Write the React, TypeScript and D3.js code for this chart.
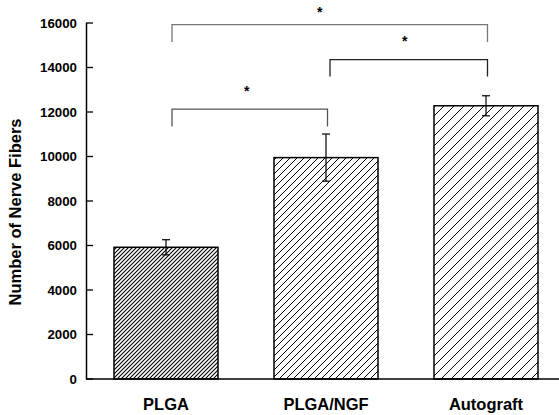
import * as d3 from "d3";

const groups = ["PLGA", "PLGA/NGF", "Autograft"];
const means = [5920, 9950, 12280];
const errors = [340, 1060, 450];
const yTicks = [0, 2000, 4000, 6000, 8000, 10000, 12000, 14000, 16000];
// significance brackets: [from group, to group, bracket value, leg bottom value, star value]
const brackets: [number, number, number, number, number][] = [
  [0, 2, 15930, 15150, 16600],
  [1, 2, 14350, 13600, 15280],
  [0, 1, 12130, 11350, 13030],
];
const hatchGaps = [4, 7, 10];

const width = 559;
const height = 415;
const font = "'Liberation Sans', Arial, Helvetica, sans-serif";

export default function App() {
  const x = d3
    .scaleBand<string>()
    .domain(groups)
    .range([86, 566])
    .paddingInner(0.35)
    .paddingOuter(0.175);
  const y = d3.scaleLinear().domain([0, 16000]).range([379, 23]);
  const cx = (i: number) => (x(groups[i]) ?? 0) + x.bandwidth() / 2;
  const starShift = [-10, -4, -3];

  return (
    <svg
      width={width}
      height={height}
      style={{ position: "absolute", left: 0, top: 0, background: "#fff" }}
      fontFamily={font}
    >
      <defs>
        {hatchGaps.map((s, i) => (
          <pattern
            key={i}
            id={`hatch${i}`}
            patternUnits="userSpaceOnUse"
            width={s}
            height={s}
          >
            <path
              d={`M-1,1 L1,-1 M0,${s} L${s},0 M${s - 1},${s + 1} L${s + 1},${s - 1}`}
              stroke="#000"
              strokeWidth={i === 0 ? 1.1 : 1}
            />
          </pattern>
        ))}
      </defs>

      {/* bars */}
      {groups.map((g, i) => (
        <rect
          key={g}
          x={x(g)}
          y={y(means[i])}
          width={x.bandwidth()}
          height={y(0) - y(means[i])}
          fill={`url(#hatch${i})`}
          stroke="#000"
          strokeWidth={1.5}
        />
      ))}

      {/* error bars */}
      {groups.map((g, i) => {
        const c = cx(i);
        const top = y(means[i] + errors[i]);
        const bot = y(means[i] - errors[i]);
        return (
          <g key={g} stroke="#000" strokeWidth={1.2}>
            <line x1={c} x2={c} y1={top} y2={bot} />
            <line x1={c - 4} x2={c + 4} y1={top} y2={top} />
            <line x1={c - 4} x2={c + 4} y1={bot} y2={bot} />
          </g>
        );
      })}

      {/* axes */}
      <line x1={86.5} x2={86.5} y1={y(16000)} y2={y(0)} stroke="#000" strokeWidth={1.5} />
      <line x1={86} x2={559} y1={y(0)} y2={y(0)} stroke="#000" strokeWidth={1.5} />
      {yTicks.map((t) => (
        <g key={t}>
          <line x1={86} x2={93} y1={y(t)} y2={y(t)} stroke="#000" strokeWidth={1.3} />
          <text
            x={77}
            y={y(t)}
            dy="0.35em"
            textAnchor="end"
            fontSize={13.3}
            fontWeight="bold"
          >
            {t}
          </text>
        </g>
      ))}
      {groups.map((g, i) => (
        <text
          key={g}
          x={cx(i)}
          y={410}
          textAnchor="middle"
          fontSize={16.5}
          fontWeight="bold"
        >
          {g}
        </text>
      ))}
      <text
        transform={`translate(21, 212) rotate(-90)`}
        textAnchor="middle"
        fontSize={16.5}
        fontWeight="bold"
      >
        Number of Nerve Fibers
      </text>

      {/* significance brackets */}
      {brackets.map(([a, b, v, leg, sv], i) => {
        const x1 = cx(a) + (i === 1 ? 4 : 6);
        const x2 = cx(b) + 1.5;
        const stroke = i === 0 ? "#777" : i === 2 ? "#555" : "#222";
        return (
          <g key={i}>
            <path
              d={`M${x1},${y(leg)} V${y(v)} H${x2} V${y(leg)}`}
              fill="none"
              stroke={stroke}
              strokeWidth={1.3}
            />
            <text
              x={(x1 + x2) / 2 + starShift[i]}
              y={y(sv) + 7}
              textAnchor="middle"
              fontSize={14}
              fontWeight="bold"
            >
              *
            </text>
          </g>
        );
      })}
    </svg>
  );
}
